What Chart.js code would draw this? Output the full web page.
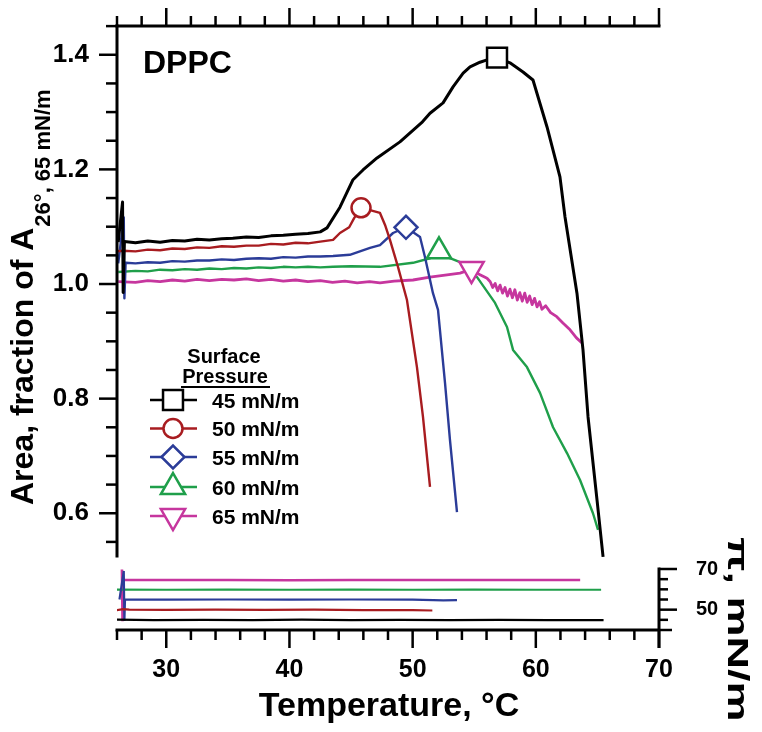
<!DOCTYPE html>
<html><head><meta charset="utf-8">
<script src="https://cdn.jsdelivr.net/npm/chart.js@4.4.1/dist/chart.umd.min.js"></script>
<style>html,body{margin:0;padding:0;background:#fff;}#wrap{position:relative;width:762px;height:732px;}</style>
</head><body><div id="wrap"><canvas id="c" width="762" height="732"></canvas></div>
<script>
const FONT = '"Liberation Sans", Arial, Helvetica, sans-serif';

// ---- data ----
const seriesLabels = ['45 mN/m', '50 mN/m', '55 mN/m', '60 mN/m', '65 mN/m'];
const seriesColors = ['#000000', '#a81c20', '#2b3c98', '#1f9f4a', '#c6369e'];

const T45 = [26.1, 26.45, 26.5, 26.6, 27.5, 28.5, 29.5, 30.5, 31.5, 32.5, 33.5, 34.5, 35.4, 36.5, 37.5, 38.5, 39.5, 40.5, 41.5, 42.5, 43.05, 44.1, 45.16, 45.97, 47.11, 48.97, 50.8, 51.41, 52.47, 53.28, 54.1, 54.66, 55.47, 56.04, 56.85, 57.9, 58.96, 59.77, 60.91, 61.96, 62.37, 63.34, 63.83, 64.24, 64.97, 65.46];
const A45 = [1.073, 1.143, 0.985, 1.074, 1.072, 1.075, 1.073, 1.076, 1.075, 1.078, 1.077, 1.079, 1.080, 1.082, 1.081, 1.084, 1.085, 1.087, 1.088, 1.091, 1.098, 1.134, 1.182, 1.199, 1.220, 1.248, 1.283, 1.298, 1.316, 1.344, 1.368, 1.379, 1.387, 1.391, 1.395, 1.386, 1.370, 1.356, 1.274, 1.187, 1.117, 0.984, 0.885, 0.768, 0.623, 0.524];

const T50 = [25.95, 26.5, 27.5, 28.5, 29.5, 30.5, 31.5, 32.5, 33.5, 34.5, 35.5, 36.5, 37.5, 38.5, 39.5, 40.5, 41.5, 42.5, 43.54, 44.1, 44.85, 45.25, 45.81, 46.54, 47.35, 47.76, 48.16, 48.81, 49.54, 50.35, 50.84, 51.41];
const A50 = [1.057, 1.058, 1.057, 1.060, 1.059, 1.062, 1.061, 1.064, 1.063, 1.066, 1.065, 1.067, 1.067, 1.070, 1.069, 1.072, 1.071, 1.074, 1.077, 1.089, 1.099, 1.115, 1.133, 1.129, 1.124, 1.103, 1.077, 1.030, 0.972, 0.855, 0.768, 0.646];

const T55 = [26.1, 26.55, 26.6, 26.7, 27.5, 28.5, 29.5, 30.5, 31.5, 32.5, 33.5, 34.5, 35.5, 36.5, 37.5, 38.5, 39.5, 40.5, 41.5, 42.5, 43.54, 44.9, 46.54, 47.35, 48.41, 49.46, 50.6, 51.0, 51.65, 52.06, 52.63, 53.03, 53.6];
const A55 = [1.036, 1.116, 0.975, 1.037, 1.036, 1.038, 1.037, 1.040, 1.039, 1.041, 1.041, 1.043, 1.042, 1.044, 1.045, 1.044, 1.047, 1.046, 1.048, 1.048, 1.049, 1.051, 1.063, 1.068, 1.089, 1.099, 1.082, 1.047, 0.984, 0.955, 0.827, 0.728, 0.602];

const T60 = [26.1, 27.5, 28.5, 29.5, 30.5, 31.5, 32.5, 33.5, 34.5, 35.5, 36.5, 37.5, 38.5, 39.5, 40.5, 41.5, 42.5, 43.54, 45.0, 47.35, 50.03, 51.41, 52.14, 53.03, 53.85, 55.23, 56.69, 57.66, 58.15, 59.28, 60.34, 61.4, 62.53, 63.59, 64.64, 65.05];
const A60 = [1.021, 1.023, 1.022, 1.025, 1.024, 1.026, 1.025, 1.027, 1.026, 1.028, 1.027, 1.029, 1.028, 1.030, 1.029, 1.030, 1.029, 1.030, 1.031, 1.030, 1.037, 1.045, 1.057, 1.045, 1.038, 1.012, 0.967, 0.925, 0.885, 0.855, 0.810, 0.750, 0.705, 0.658, 0.600, 0.571];

const T65 = [26.1, 27.5, 28.5, 29.5, 30.5, 31.5, 32.5, 33.5, 34.5, 35.5, 36.5, 37.5, 38.5, 39.5, 40.5, 41.5, 42.5, 43.5, 44.5, 45.5, 46.5, 47.35, 48.5, 50.03, 51.4, 52.79, 53.85, 54.78, 55.47, 56.04, 56.3, 56.5, 56.7, 56.9, 57.1, 57.3, 57.5, 57.7, 57.9, 58.1, 58.3, 58.5, 58.7, 58.9, 59.1, 59.3, 59.5, 59.7, 59.9, 60.1, 60.3, 60.5, 60.8, 61.2, 61.7, 62.2, 62.78, 63.3, 63.75];
const A65 = [1.004, 1.003, 1.006, 1.004, 1.007, 1.005, 1.008, 1.006, 1.008, 1.007, 1.009, 1.006, 1.008, 1.005, 1.007, 1.004, 1.006, 1.003, 1.005, 1.002, 1.004, 1.002, 1.005, 1.007, 1.012, 1.016, 1.019, 1.026, 1.016, 1.010, 1.004, 0.994, 1.001, 0.988, 0.998, 0.984, 0.994, 0.979, 0.991, 0.976, 0.990, 0.972, 0.985, 0.970, 0.984, 0.968, 0.979, 0.964, 0.975, 0.960, 0.969, 0.956, 0.962, 0.950, 0.943, 0.932, 0.920, 0.906, 0.897];

// peak markers
const markerT = [56.85, 45.81, 49.46, 52.14, 54.78];
const markerA = [1.395, 1.133, 1.099, 1.057, 1.026];

// surface pressure traces (lower panel)
const PT45 = [26.0, 29.0, 33.0, 37.0, 41.0, 45.0, 49.0, 53.0, 57.0, 61.0, 65.5];
const P45 = [45.1, 44.9, 45.0, 44.9, 45.1, 44.9, 45.0, 44.9, 45.0, 44.9, 44.9];
const PT50 = [25.9, 26.5, 27.0, 30.0, 34.0, 38.0, 42.0, 46.0, 50.0, 51.6];
const P50 = [49.6, 50.3, 50.0, 49.9, 50.0, 49.9, 50.0, 49.8, 49.8, 49.6];
const PT55 = [26.2, 26.55, 26.6, 26.65, 30.0, 35.0, 40.0, 45.0, 50.0, 52.5, 53.6];
const P55 = [55.0, 69.0, 44.5, 54.9, 54.9, 55.0, 54.9, 55.0, 54.9, 54.6, 54.7];
const PT60 = [26.0, 30.0, 35.0, 40.0, 45.0, 50.0, 55.0, 60.0, 65.3];
const P60 = [59.9, 59.8, 59.9, 59.8, 59.9, 59.8, 59.9, 59.8, 59.8];
const PT65 = [26.4, 26.45, 26.5, 30.0, 35.0, 40.0, 45.0, 50.0, 55.0, 60.0, 63.6];
const P65 = [69.8, 44.3, 64.6, 64.6, 64.6, 64.5, 64.6, 64.6, 64.6, 64.6, 64.6];

// tick labels
const xTickLabels = [30, 40, 50, 60, 70];
const yTickLabels = [0.6, 0.8, 1.0, 1.2, 1.4];
const y2TickLabels = [50, 70];

// ---- build datasets ----
const zip = (xs, ys) => xs.map((v, i) => ({ x: v, y: ys[i] }));
const areaT = [T45, T50, T55, T60, T65];
const areaA = [A45, A50, A55, A60, A65];
const presT = [PT45, PT50, PT55, PT60, PT65];
const presP = [P45, P50, P55, P60, P65];
const markerStyles = [
  { pointStyle: 'rect', radius: 14.1, rotation: 0 },
  { pointStyle: 'circle', radius: 9.5, rotation: 0 },
  { pointStyle: 'rectRot', radius: 11.5, rotation: 0 },
  { pointStyle: 'triangle', radius: 14, rotation: 0 },
  { pointStyle: 'triangle', radius: 14, rotation: 180 }
];
const lineWidths = [3, 2.4, 2.4, 2.4, 2.8];

const datasets = [];
markerStyles.forEach((m, i) => {
  datasets.push({
    type: 'scatter', yAxisID: 'y', data: [{ x: markerT[i], y: markerA[i] }],
    pointStyle: m.pointStyle, pointRadius: m.radius, pointRotation: m.rotation,
    pointBorderWidth: 2.5, pointBorderColor: seriesColors[i], pointBackgroundColor: '#ffffff',
    showLine: false
  });
});
areaT.forEach((t, i) => {
  datasets.push({
    type: 'line', yAxisID: 'y', data: zip(t, areaA[i]), borderColor: seriesColors[i],
    borderWidth: lineWidths[i], pointRadius: 0, tension: 0, fill: false, borderJoinStyle: 'round'
  });
});
presT.forEach((t, i) => {
  datasets.push({
    type: 'line', yAxisID: 'y2', data: zip(t, presP[i]), borderColor: seriesColors[i],
    borderWidth: i === 4 ? 2.6 : 2.2, pointRadius: 0, tension: 0, fill: false
  });
});

// ---- geometry of the drawing (styles/positions) ----
const mainAxisBottom = 0.523;

function drawMarker(ctx, style, x, y, r, rot) {
  ctx.beginPath();
  if (style === 'rect') {
    const s = Math.SQRT1_2 * r; ctx.rect(x - s, y - s, 2 * s, 2 * s);
  } else if (style === 'circle') {
    ctx.arc(x, y, r, 0, Math.PI * 2);
  } else if (style === 'rectRot') {
    ctx.moveTo(x - r, y); ctx.lineTo(x, y - r); ctx.lineTo(x + r, y); ctx.lineTo(x, y + r); ctx.closePath();
  } else {
    let rad = rot * Math.PI / 180;
    ctx.moveTo(x + Math.sin(rad) * r, y - Math.cos(rad) * r);
    rad += 2 * Math.PI / 3; ctx.lineTo(x + Math.sin(rad) * r, y - Math.cos(rad) * r);
    rad += 2 * Math.PI / 3; ctx.lineTo(x + Math.sin(rad) * r, y - Math.cos(rad) * r);
    ctx.closePath();
  }
  ctx.fillStyle = '#fff'; ctx.fill(); ctx.stroke();
}

const decorPlugin = {
  id: 'decor',
  afterDraw(chart) {
    const { ctx, chartArea: a } = chart;
    const x = chart.scales.x, y = chart.scales.y, y2 = chart.scales.y2;
    ctx.save();
    ctx.strokeStyle = '#000'; ctx.lineCap = 'butt';
    const seg = (x1, y1, x2, y2_) => { ctx.beginPath(); ctx.moveTo(x1, y1); ctx.lineTo(x2, y2_); ctx.stroke(); };
    // axis lines
    ctx.lineWidth = 3;
    const yEnd = y.getPixelForValue(mainAxisBottom);
    seg(a.left, a.top - 1.5, a.left, yEnd);
    seg(a.left - 1.5, a.top, a.right + 1.5, a.top);
    seg(a.left - 1.5, a.bottom, a.right, a.bottom);
    seg(a.right, y2.getPixelForValue(70) - 1.5, a.right, a.bottom + 18);
    ctx.lineWidth = 2.5;
    // left axis ticks
    for (let k = 0; k <= 18; k++) {
      const v = 0.55 + 0.05 * k;
      const major = Math.abs(v * 5 - Math.round(v * 5)) < 1e-6;
      const py = y.getPixelForValue(v);
      seg(a.left - (major ? 18 : 11), py, a.left, py);
    }
    // top & bottom ticks
    for (let t = 26; t <= 70; t += 2) {
      const px = x.getPixelForValue(t);
      const major = t % 10 === 0;
      seg(px, a.top, px, a.top - (major ? 18 : 10));
      seg(px, a.bottom, px, a.bottom + (major ? 18 : 10));
    }
    // right (pressure) ticks
    for (let p = 40; p <= 70; p += 5) {
      const py = y2.getPixelForValue(p);
      const len = (p === 50 || p === 70) ? 18 : (p === 40 ? 13 : 9);
      seg(a.right, py, a.right + len, py);
    }

    ctx.fillStyle = '#000'; ctx.textAlign = 'left'; ctx.textBaseline = 'alphabetic';
    // DPPC
    ctx.font = 'bold 32px ' + FONT;
    ctx.fillText('DPPC', 143, 73);
    // y title
    ctx.save();
    ctx.translate(33, 505); ctx.rotate(-Math.PI / 2);
    ctx.font = 'bold 32px ' + FONT;
    const main = 'Area, fraction of A';
    ctx.fillText(main, 0, 0);
    const w = ctx.measureText(main).width;
    ctx.font = 'bold 22px ' + FONT;
    ctx.fillText('26°, 65 mN/m', w + 1, 17);
    ctx.restore();
    // x title
    ctx.font = 'bold 34px ' + FONT; ctx.textAlign = 'center';
    ctx.fillText('Temperature, °C', 389, 716);
    // right title
    ctx.save();
    ctx.translate(728, 537); ctx.rotate(Math.PI / 2); ctx.scale(1.5, 1);
    ctx.font = 'bold 30px ' + FONT; ctx.textAlign = 'left';
    ctx.fillText('π, mN/m', 0, 0);
    ctx.restore();

    // legend
    ctx.font = 'bold 20px ' + FONT; ctx.textAlign = 'center';
    ctx.fillText('Surface', 224, 363);
    ctx.fillText('Pressure', 225, 383);
    ctx.lineWidth = 2;
    seg(181, 387, 270, 387);
    const rows = [400, 428.5, 457, 487, 516];
    ctx.textAlign = 'left';
    rows.forEach((ry, i) => {
      ctx.strokeStyle = seriesColors[i]; ctx.lineWidth = 2.5;
      seg(150, ry, 197, ry);
      const m = markerStyles[i];
      drawMarker(ctx, m.pointStyle, 173, ry, m.radius, m.rotation);
      ctx.fillStyle = '#000';
      ctx.font = 'bold 21px ' + FONT;
      ctx.fillText(seriesLabels[i], 212, ry + 7.5);
    });
    ctx.restore();
  }
};

const tickFont = (s) => ({ family: FONT, size: s, weight: 'bold' });
const zeroPad = (s) => { s.paddingTop = 0; s.paddingBottom = 0; s.paddingLeft = 0; s.paddingRight = 0; };

new Chart(document.getElementById('c'), {
  data: { datasets },
  options: {
    responsive: false, animation: false, devicePixelRatio: 1,
    layout: { autoPadding: false, padding: { top: 26, left: 0, right: 0, bottom: 0 } },
    plugins: { legend: { display: false }, tooltip: { enabled: false } },
    scales: {
      x: {
        type: 'linear', position: 'bottom', min: 26, max: 70,
        afterBuildTicks: s => { s.ticks = xTickLabels.map(v => ({ value: v })); },
        afterFit: s => { s.height = 102; zeroPad(s); },
        grid: { display: false }, border: { display: false },
        ticks: { font: tickFont(25), color: '#000', padding: 17, maxRotation: 0, autoSkip: false, callback: v => String(v) }
      },
      y: {
        type: 'linear', position: 'left', min: 0.3963, max: 1.4502,
        afterBuildTicks: s => { s.ticks = yTickLabels.map(v => ({ value: v })); },
        afterFit: s => { s.width = 117; zeroPad(s); },
        grid: { display: false }, border: { display: false },
        ticks: { font: tickFont(26), color: '#000', padding: 20, autoSkip: false, callback: v => Number(v).toFixed(1) }
      },
      y2: {
        type: 'linear', position: 'right', min: 40, max: 337.05,
        afterBuildTicks: s => { s.ticks = y2TickLabels.map(v => ({ value: v })); },
        afterFit: s => { s.width = 103; zeroPad(s); },
        grid: { display: false }, border: { display: false },
        ticks: { font: tickFont(20), color: '#000', padding: 29, autoSkip: false, callback: v => String(v) }
      }
    }
  },
  plugins: [decorPlugin]
});
</script>
</body></html>
